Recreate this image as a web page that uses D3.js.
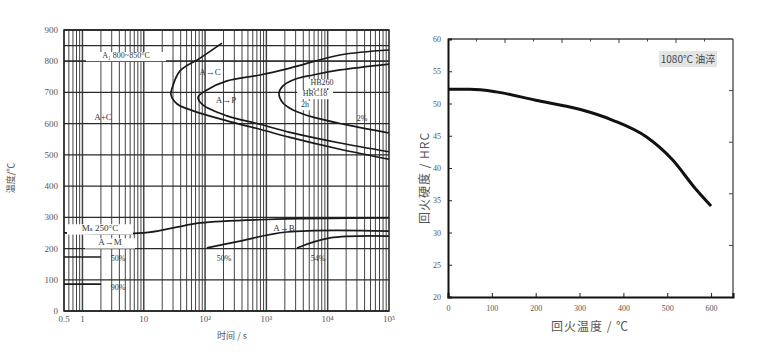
<!DOCTYPE html>
<html>
<head>
<meta charset="utf-8">
<script src="https://cdn.jsdelivr.net/npm/d3@7"></script>
<style>
  html, body { margin: 0; padding: 0; background: #fff; }
  svg { display: block; }
  .serif { font-family: 'Liberation Serif', 'DejaVu Serif', serif; }
  .cjk { font-family: 'Noto Sans CJK SC', sans-serif; }
</style>
</head>
<body>
<div id="chart"></div>
<script>
// ---- left chart (TTT) data ----
const tttTimeTicks = [0.5, 1, 10, 100, 1000, 10000, 100000];
const tttTimeLabels = ['0.5', '1', '10', '10²', '10³', '10⁴', '10⁵'];
const tttTempTicks = [0, 100, 200, 300, 400, 500, 600, 700, 800, 900];
const a1Temps = [800, 850];

// [time s, temperature C]
const carbideStart = [[189, 858], [83, 810], [39, 769], [29, 714], [27.8, 692], [35, 663], [64, 641], [228, 609], [787, 582], [2430, 556], [15850, 518], [100000, 486]];
const pearliteStart = [[100000, 836], [15850, 820], [2430, 778], [787, 756], [228, 737], [107, 708], [77, 685], [92, 660], [228, 625], [787, 598], [2430, 572], [15850, 538], [100000, 510]];
const pearliteEnd = [[100000, 791], [15850, 772], [5754, 756], [2716, 740], [1866, 721], [1606, 698], [1866, 666], [2716, 644], [5754, 621], [20650, 596], [100000, 570]];
const msLine = [[0.5, 250], [10, 250], [30, 266], [83, 282], [1000, 293], [100000, 298]];
const bainiteLine1 = [[107, 202], [372, 224], [2168, 253], [100000, 256]];
const bainiteLine2 = [[3162, 202], [10900, 234], [100000, 240]];
const martensite50 = [[0.5, 173], [2, 173]];
const martensite90 = [[0.5, 86], [2, 86]];

// ---- right chart (tempering) data ----
const temperTemps = [0, 50, 110, 200, 300, 376, 453, 513, 563, 600];
const temperHardness = [52.2, 52.2, 51.8, 50.5, 49.1, 47.4, 44.8, 41.2, 36.9, 34.1];
const temperXTicks = [0, 100, 200, 300, 400, 500, 600];
const temperYTicks = [20, 25, 30, 35, 40, 45, 50, 55, 60];

const inkColor = '#222';
const gridColor = '#444';
const labelColor = '#555';

const svg = d3.select('#chart')
    .append('svg')
    .attr('width', 757)
    .attr('height', 356);

svg.append('rect').attr('width', 757).attr('height', 356).attr('fill', '#fff');

buildTTT();
buildTemper();

function buildTTT() {
    const x = d3.scaleLog().domain([0.5, 100000]).range([64, 389]);
    const y = d3.scaleLinear().domain([0, 900]).range([311, 30]);
    const g = svg.append('g');

    // log grid
    const gridTimes = [];
    for (let k = -1; k <= 4; k++) {
        for (let m = 1; m <= 9; m++) {
            const t = m * Math.pow(10, k);
            if (t >= 0.5 && t <= 100000) gridTimes.push(t);
        }
    }
    g.selectAll('.vgrid')
        .data(gridTimes)
        .enter()
        .append('line')
        .attr('x1', d => x(d)).attr('x2', d => x(d))
        .attr('y1', y(900)).attr('y2', y(0))
        .attr('stroke', gridColor)
        .attr('stroke-width', d => (Math.abs(Math.log10(d) % 1) < 1e-9 ? 1.5 : 1));

    g.selectAll('.hgrid')
        .data(tttTempTicks)
        .enter()
        .append('line')
        .attr('x1', x(0.5)).attr('x2', x(100000))
        .attr('y1', d => y(d)).attr('y2', d => y(d))
        .attr('stroke', '#2a2a2a')
        .attr('stroke-width', 1.3);

    g.selectAll('.a1')
        .data(a1Temps)
        .enter()
        .append('line')
        .attr('x1', x(0.5)).attr('x2', x(100000))
        .attr('y1', d => y(d)).attr('y2', d => y(d))
        .attr('stroke', '#2a2a2a')
        .attr('stroke-width', 1.3);

    // frame
    g.append('rect')
        .attr('x', x(0.5)).attr('y', y(900))
        .attr('width', x(100000) - x(0.5))
        .attr('height', y(0) - y(900))
        .attr('fill', 'none')
        .attr('stroke', inkColor)
        .attr('stroke-width', 1.5);

    const line = d3.line()
        .x(d => x(d[0]))
        .y(d => y(d[1]))
        .curve(d3.curveCatmullRom.alpha(0.5));

    [carbideStart, pearliteStart, pearliteEnd, msLine, bainiteLine1, bainiteLine2, martensite50, martensite90]
        .forEach(c => {
            g.append('path')
                .attr('d', line(c))
                .attr('fill', 'none')
                .attr('stroke', '#1a1a1a')
                .attr('stroke-width', 1.7);
        });

    // boxed labels
    const boxLabel = (text, cx, cy, size, w) => {
        g.append('rect')
            .attr('x', cx - w / 2).attr('y', cy - size * 0.75)
            .attr('width', w).attr('height', size * 1.15)
            .attr('fill', '#fff');
        g.append('text')
            .attr('class', 'serif')
            .attr('x', cx).attr('y', cy)
            .attr('text-anchor', 'middle')
            .attr('font-size', size)
            .attr('fill', '#333')
            .text(text);
    };
    boxLabel('A₁ 800~850°C', 126, 58, 8, 80);
    boxLabel('Mₛ 250°C', 100, 231, 9, 66);
    boxLabel('A→M', 110, 245, 9, 50);
    boxLabel('HB260', 322, 85, 8, 34);
    boxLabel('HRC18', 315, 96, 8, 36);
    boxLabel('2h', 305, 107, 8, 14);

    const plainLabel = (text, cx, cy, size) => {
        g.append('text')
            .attr('class', 'serif')
            .attr('x', cx).attr('y', cy)
            .attr('text-anchor', 'middle')
            .attr('font-size', size)
            .attr('fill', '#333')
            .text(text);
    };
    plainLabel('A+C', 103, 120, 9);
    plainLabel('A→C', 210, 75, 9);
    plainLabel('A→P', 226, 103, 9);
    plainLabel('2%', 362, 121, 8);
    plainLabel('A→B', 284, 231, 9);
    plainLabel('50%', 118, 261, 8);
    plainLabel('90%', 118, 290, 8);
    plainLabel('50%', 224, 261, 8);
    plainLabel('54%', 318, 261, 8);

    // tick labels
    g.selectAll('.ylab')
        .data(tttTempTicks)
        .enter()
        .append('text')
        .attr('class', 'serif')
        .attr('x', 58)
        .attr('y', d => y(d) + 3)
        .attr('text-anchor', 'end')
        .attr('font-size', 9)
        .attr('fill', labelColor)
        .text(d => d);

    g.selectAll('.xlab')
        .data(tttTimeTicks)
        .enter()
        .append('text')
        .attr('class', 'serif')
        .attr('x', d => x(d))
        .attr('y', 322)
        .attr('text-anchor', 'middle')
        .attr('font-size', 9)
        .attr('fill', labelColor)
        .text((d, i) => tttTimeLabels[i]);

    g.append('text')
        .attr('class', 'cjk')
        .attr('x', 232).attr('y', 339)
        .attr('text-anchor', 'middle')
        .attr('font-size', 9)
        .attr('fill', labelColor)
        .text('时间 / s');

    g.append('text')
        .attr('class', 'cjk')
        .attr('transform', 'translate(14,178) rotate(-90)')
        .attr('text-anchor', 'middle')
        .attr('font-size', 9)
        .attr('fill', labelColor)
        .text('温度/℃');
}

function buildTemper() {
    const x = d3.scaleLinear().domain([0, 650]).range([448, 733]);
    const y = d3.scaleLinear().domain([20, 60]).range([297, 39]);
    const g = svg.append('g');

    // top / right frame (thin)
    g.append('line')
        .attr('x1', x(0)).attr('x2', x(650))
        .attr('y1', y(60)).attr('y2', y(60))
        .attr('stroke', '#444').attr('stroke-width', 1.3);
    g.append('line')
        .attr('x1', x(650)).attr('x2', x(650))
        .attr('y1', y(60)).attr('y2', y(20))
        .attr('stroke', '#444').attr('stroke-width', 1.3);

    // top ticks (10 divisions), right ticks (5 divisions)
    const topScale = d3.scaleLinear().domain([0, 10]).range([x(0), x(650)]);
    g.selectAll('.ttick')
        .data(d3.range(1, 10))
        .enter()
        .append('line')
        .attr('x1', d => topScale(d)).attr('x2', d => topScale(d))
        .attr('y1', y(60)).attr('y2', d => y(60) + (d % 2 === 0 ? 4 : 2.5))
        .attr('stroke', '#444');
    const rightScale = d3.scaleLinear().domain([0, 5]).range([y(60), y(20)]);
    g.selectAll('.rtick')
        .data(d3.range(1, 5))
        .enter()
        .append('line')
        .attr('x1', x(650)).attr('x2', x(650) - 4)
        .attr('y1', d => rightScale(d)).attr('y2', d => rightScale(d))
        .attr('stroke', '#444');

    // axes
    g.append('g')
        .attr('transform', `translate(0,${y(20)})`)
        .call(d3.axisBottom(x).tickValues(temperXTicks).tickSize(-4).tickPadding(8).tickFormat(d3.format('d')))
        .call(a => a.select('.domain').attr('stroke', '#111').attr('stroke-width', 2))
        .call(a => a.selectAll('.tick line').attr('stroke', '#222'))
        .call(a => a.selectAll('text').attr('class', 'serif').attr('font-size', 8).attr('fill', labelColor));

    g.append('g')
        .attr('transform', `translate(${x(0)},0)`)
        .call(d3.axisLeft(y).tickValues(temperYTicks).tickSize(-4).tickPadding(7))
        .call(a => a.select('.domain').attr('stroke', '#111').attr('stroke-width', 2))
        .call(a => a.selectAll('.tick line').attr('stroke', '#222'))
        .call(a => a.selectAll('text').attr('class', 'serif').attr('font-size', 8).attr('fill', labelColor));

    const line = d3.line()
        .x((d, i) => x(temperTemps[i]))
        .y(d => y(d))
        .curve(d3.curveMonotoneX);

    g.append('path')
        .attr('d', line(temperHardness))
        .attr('fill', 'none')
        .attr('stroke', '#111')
        .attr('stroke-width', 3);

    // legend box
    g.append('rect')
        .attr('x', 659).attr('y', 51)
        .attr('width', 58).attr('height', 16)
        .attr('fill', '#e4e4e4');
    g.append('text')
        .attr('class', 'cjk')
        .attr('x', 688).attr('y', 63)
        .attr('text-anchor', 'middle')
        .attr('font-size', 10)
        .attr('fill', '#444')
        .text('1080℃  油淬');

    g.append('text')
        .attr('class', 'cjk')
        .attr('x', 590).attr('y', 331)
        .attr('text-anchor', 'middle')
        .attr('font-size', 12)
        .attr('fill', labelColor)
        .attr('letter-spacing', 1)
        .text('回火温度 / ℃');

    g.append('text')
        .attr('class', 'cjk')
        .attr('transform', 'translate(429,178) rotate(-90)')
        .attr('text-anchor', 'middle')
        .attr('font-size', 12)
        .attr('fill', labelColor)
        .attr('letter-spacing', 1)
        .text('回火硬度 / HRC');
}
</script>
</body>
</html>
